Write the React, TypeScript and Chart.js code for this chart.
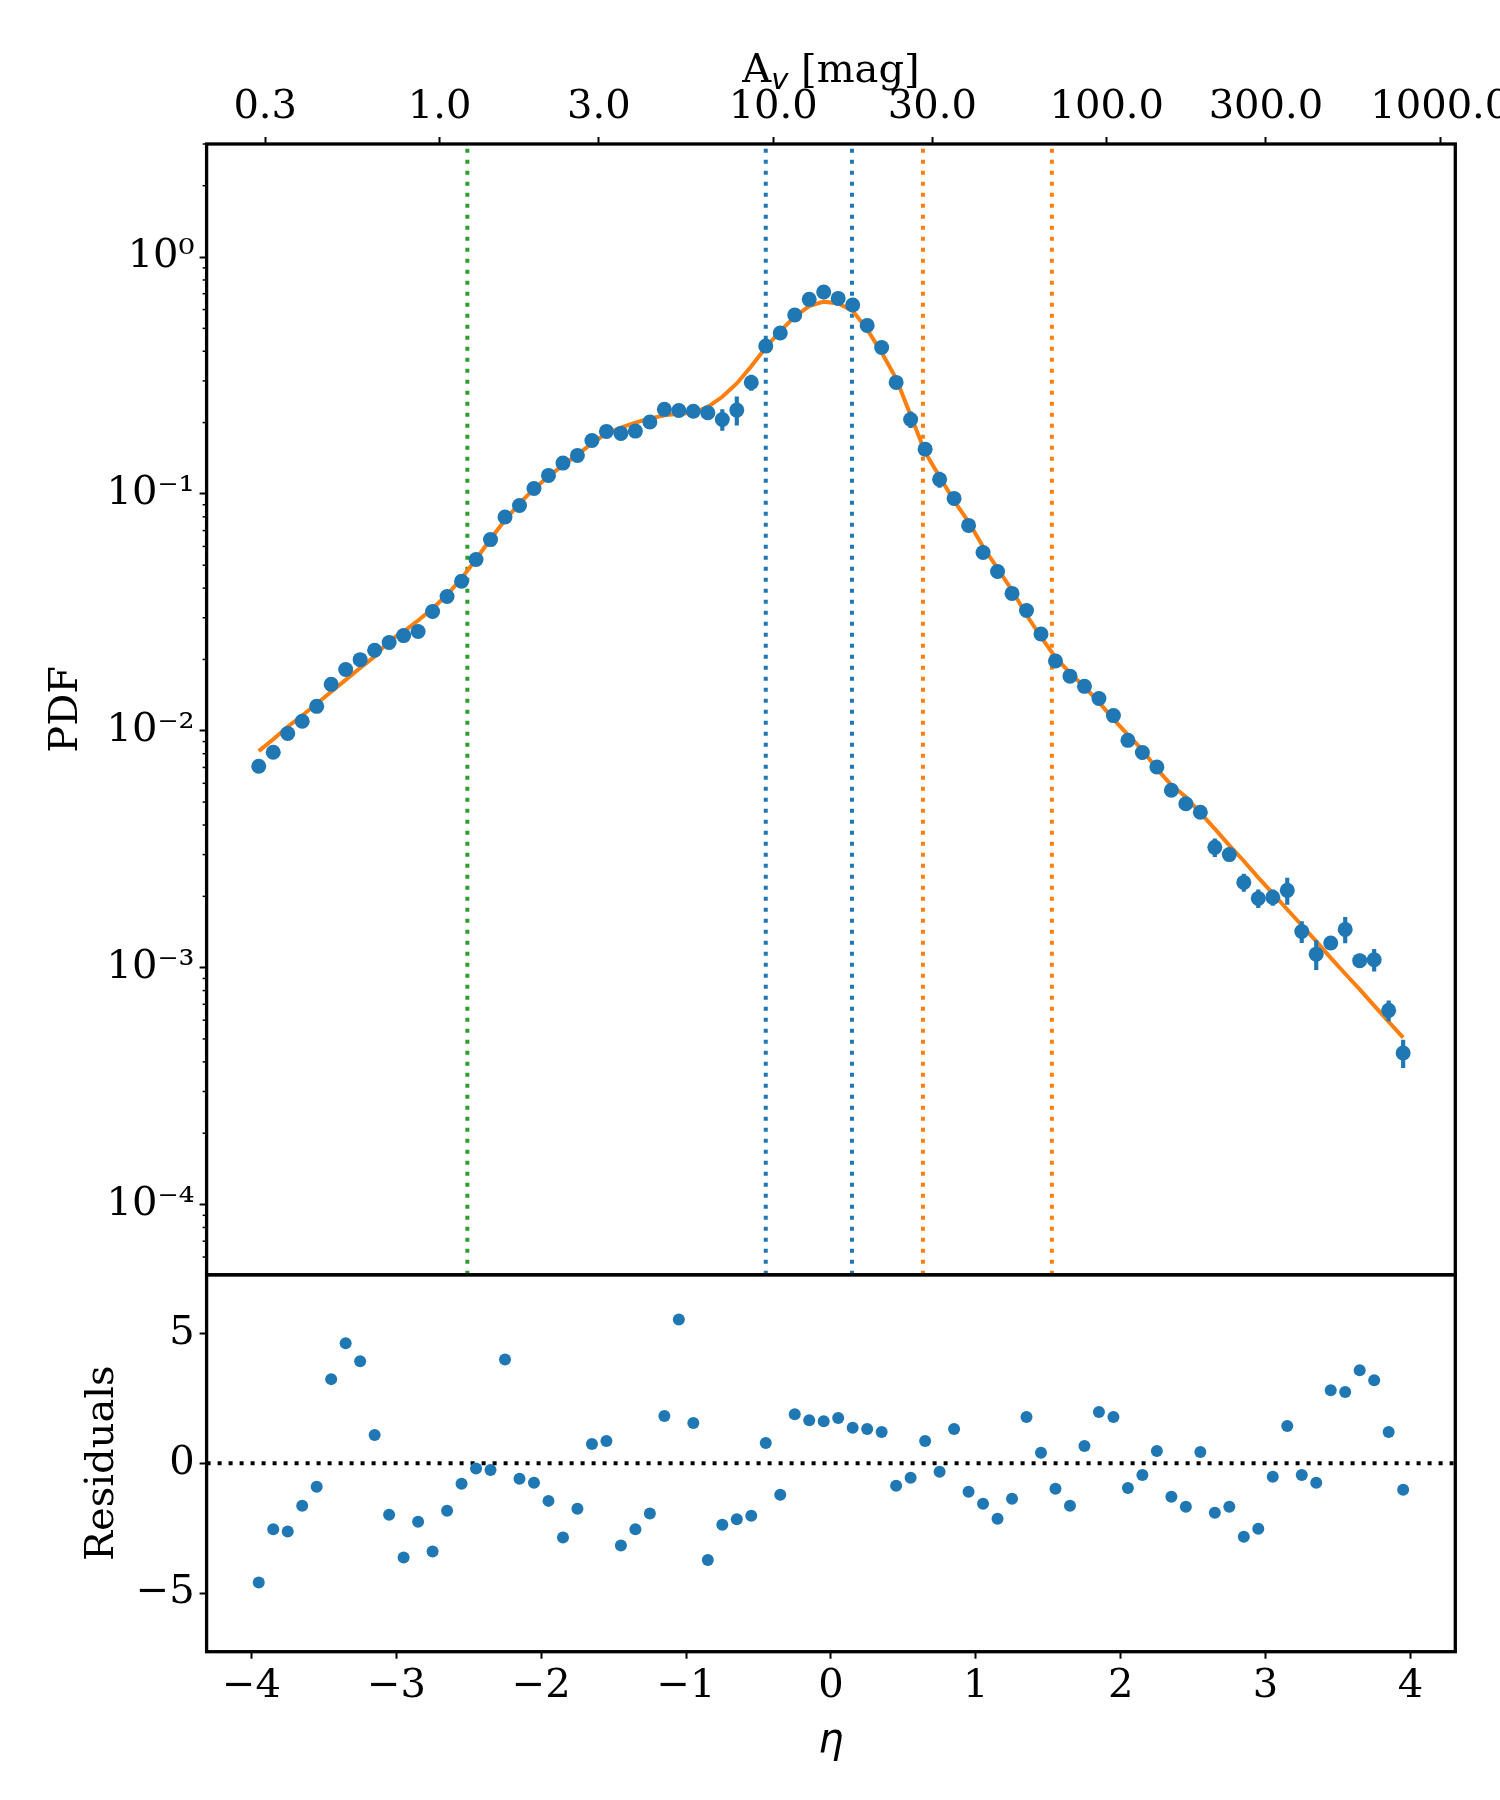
import React, { useEffect, useRef } from "react";
import { Chart, registerables } from "chart.js";

Chart.register(...registerables);

// eta = ln(A_v / A_v0), one bin every 0.1
const ETA = [
  -3.95, -3.85, -3.75, -3.65, -3.55, -3.45, -3.35, -3.25, -3.15, -3.05,
  -2.95, -2.85, -2.75, -2.65, -2.55, -2.45, -2.35, -2.25, -2.15, -2.05,
  -1.95, -1.85, -1.75, -1.65, -1.55, -1.45, -1.35, -1.25, -1.15, -1.05,
  -0.95, -0.85, -0.75, -0.65, -0.55, -0.45, -0.35, -0.25, -0.15, -0.05,
  0.05, 0.15, 0.25, 0.35, 0.45, 0.55, 0.65, 0.75, 0.85, 0.95,
  1.05, 1.15, 1.25, 1.35, 1.45, 1.55, 1.65, 1.75, 1.85, 1.95,
  2.05, 2.15, 2.25, 2.35, 2.45, 2.55, 2.65, 2.75, 2.85, 2.95,
  3.05, 3.15, 3.25, 3.35, 3.45, 3.55, 3.65, 3.75, 3.85, 3.95,
];

const PDF = [
  0.00708, 0.00811, 0.00973, 0.01097, 0.01268, 0.0157, 0.01813, 0.01996, 0.02186, 0.02357,
  0.02522, 0.02624, 0.03186, 0.03686, 0.04277, 0.05284, 0.06412, 0.07992, 0.0893, 0.1054,
  0.1197, 0.1349, 0.1454, 0.1681, 0.1836, 0.18, 0.1841, 0.201, 0.2274, 0.225,
  0.2232, 0.2201, 0.2062, 0.2258, 0.2955, 0.4207, 0.4775, 0.5689, 0.6626, 0.7113,
  0.6689, 0.627, 0.5145, 0.4152, 0.2955, 0.2062, 0.1545, 0.1151, 0.0957, 0.0736,
  0.0566, 0.047, 0.038, 0.0322, 0.0256, 0.0197, 0.017, 0.0154, 0.01368, 0.01159,
  0.00911, 0.00809, 0.00703, 0.00561, 0.00492, 0.00453, 0.00322, 0.003, 0.00229, 0.00196,
  0.00198, 0.00212, 0.00142, 0.00114, 0.00127, 0.00145, 0.00107, 0.00108, 0.00066, 0.000436,
];

const PDF_ERR = [
  0.00026, 0.0003, 0.00032, 0.00036, 0.0004, 0.00045, 0.00048, 0.0005, 0.00055, 0.0006,
  0.00065, 0.0011, 0.001, 0.0011, 0.0013, 0.0015, 0.0017, 0.002, 0.0023, 0.0026,
  0.003, 0.0032, 0.0034, 0.0038, 0.0042, 0.0033, 0.0063, 0.0036, 0.0068, 0.002,
  0.0021, 0.0035, 0.021, 0.031, 0.022, 0.007, 0.008, 0.0048, 0.025, 0.039,
  0.018, 0.024, 0.015, 0.017, 0.013, 0.016, 0.006, 0.0085, 0.0017, 0.0024,
  0.0021, 0.0007, 0.0009, 0.0008, 0.0009, 0.0007, 0.00034, 0.00012, 0.00024, 0.0002,
  0.0005, 0.0005, 0.0003, 0.0002, 0.0002, 0.0002, 0.00028, 0.00017, 0.00019, 0.00017,
  0.00015, 0.00027, 0.000145, 0.00016, 0.00006, 0.00018, 0.00007, 0.000115, 0.000065, 0.000058,
];

const FIT = [
  0.0082, 0.0092, 0.0104, 0.0116, 0.013, 0.0146, 0.0164, 0.0184, 0.0206, 0.024,
  0.0262, 0.0292, 0.0328, 0.0375, 0.044, 0.053, 0.0645, 0.0775, 0.0912, 0.105,
  0.1185, 0.132, 0.1465, 0.1635, 0.18, 0.1905, 0.2, 0.208, 0.2145, 0.218,
  0.22, 0.233, 0.257, 0.2925, 0.346, 0.415, 0.487, 0.56, 0.621, 0.648,
  0.637, 0.593, 0.495, 0.395, 0.307, 0.215, 0.15, 0.118, 0.0935, 0.0762,
  0.0598, 0.0485, 0.0392, 0.0308, 0.0249, 0.0204, 0.01755, 0.01532, 0.0132, 0.0112,
  0.0096, 0.0083, 0.0069, 0.0059, 0.00525, 0.0045, 0.00385, 0.00328, 0.00282, 0.0024,
  0.00206, 0.00176, 0.00151, 0.00129, 0.0011, 0.000942, 0.000809, 0.000691, 0.000591, 0.000506,
];

const RESID = [
  -4.59, -2.54, -2.63, -1.64, -0.91, 3.24, 4.62, 3.93, 1.09, -1.98,
  -3.63, -2.25, -3.4, -1.83, -0.79, -0.2, -0.26, 4.0, -0.6, -0.75,
  -1.45, -2.86, -1.75, 0.74, 0.86, -3.17, -2.54, -1.94, 1.82, 5.54,
  1.55, -3.73, -2.37, -2.16, -2.02, 0.78, -1.21, 1.89, 1.66, 1.62,
  1.74, 1.37, 1.32, 1.2, -0.87, -0.56, 0.86, -0.33, 1.32, -1.1,
  -1.56, -2.14, -1.37, 1.78, 0.4, -0.98, -1.64, 0.66, 1.97, 1.78,
  -0.95, -0.45, 0.47, -1.29, -1.68, 0.43, -1.91, -1.68, -2.83, -2.52,
  -0.52, 1.43, -0.45, -0.75, 2.81, 2.74, 3.58, 3.2, 1.2, -1.02,
];

const ETA_TICKS = [-4, -3, -2, -1, 0, 1, 2, 3, 4];
const AV_TICKS = [0.3, 1, 3, 10, 30, 100, 300, 1000];
const PDF_TICKS = [1e-4, 1e-3, 1e-2, 1e-1, 1];
const RESID_TICKS = [-5, 0, 5];

// vertical markers, in eta
const GREEN_LINES = [-2.51];
const BLUE_LINES = [-0.45, 0.145];
const ORANGE_LINES = [0.635, 1.525];

const AV0 = 14.9; // A_v at eta = 0
const X_MIN = -4.31;
const X_MAX = 4.31;
const PDF_MIN = 5.05e-5;
const PDF_MAX = 3.0;
const RES_LIM = 7.26;

const BLUE = "#1f77b4";
const ORANGE = "#ff7f0e";
const GREEN = "#2ca02c";
const SERIF = "'DejaVu Serif', serif";
const TICK_FONT = { family: SERIF, size: 40 };

const SUP: Record<string, string> = {
  "-": "\u207b", "0": "\u2070", "1": "\u00b9", "2": "\u00b2", "3": "\u00b3",
  "4": "\u2074", "5": "\u2075", "6": "\u2076", "7": "\u2077", "8": "\u2078", "9": "\u2079",
};

const signed = (v: number) => (v < 0 ? "\u2212" + Math.abs(v) : String(v));
const powerLabel = (v: number) => {
  const e = String(Math.round(Math.log10(v)));
  return "10" + e.split("").map((c) => SUP[c]).join("");
};

const tickGrid = { drawOnChartArea: false, drawTicks: true, tickLength: 7, tickWidth: 2, tickColor: "#000", offset: false };

// boxes round both panels, minor ticks of the log axis, and the A_v title with its subscript
const framePlugin = {
  id: "panelFrames",
  afterDatasetsDraw(chart: any) {
    const { ctx, chartArea } = chart;
    const yPdf = chart.scales.yPdf;
    const yRes = chart.scales.yRes;
    const w = chartArea.right - chartArea.left;
    ctx.save();
    ctx.strokeStyle = "#000";
    ctx.lineWidth = 1.5;
    for (let k = -5; k <= 0; k++) {
      for (let m = 2; m <= 9; m++) {
        const v = m * Math.pow(10, k);
        if (v < yPdf.min || v > yPdf.max) continue;
        const y = yPdf.getPixelForValue(v);
        ctx.beginPath();
        ctx.moveTo(chartArea.left, y);
        ctx.lineTo(chartArea.left - 4, y);
        ctx.stroke();
      }
    }
    ctx.lineWidth = 3.3;
    ctx.strokeRect(chartArea.left, yPdf.top, w, yPdf.bottom - yPdf.top);
    ctx.strokeRect(chartArea.left, yRes.top, w, yRes.bottom - yRes.top);
    ctx.restore();
  },
  afterDraw(chart: any) {
    const { ctx, chartArea } = chart;
    const mainFont = `40px ${SERIF}`;
    const subFont = "italic 29px 'DejaVu Sans'";
    const base = 82;
    ctx.save();
    ctx.fillStyle = "#000";
    ctx.textBaseline = "alphabetic";
    ctx.textAlign = "left";
    ctx.font = mainFont;
    const wA = ctx.measureText("A").width;
    const wRest = ctx.measureText(" [mag]").width;
    ctx.font = subFont;
    const wv = ctx.measureText("v").width;
    let x = (chartArea.left + chartArea.right) / 2 - (wA + wv + wRest) / 2;
    ctx.font = mainFont;
    ctx.fillText("A", x, base);
    x += wA;
    ctx.font = subFont;
    ctx.fillText("v", x, base + 6.5);
    x += wv;
    ctx.font = mainFont;
    ctx.fillText(" [mag]", x, base);
    ctx.restore();
  },
};

const vline = (x: number, color: string) => ({
  type: "line" as const,
  data: [
    { x, y: PDF_MIN },
    { x, y: PDF_MAX },
  ],
  xAxisID: "x",
  yAxisID: "yPdf",
  borderColor: color,
  borderWidth: 4,
  borderDash: [4, 7],
  pointRadius: 0,
  order: 3,
});

export default function App() {
  const canvasRef = useRef<HTMLCanvasElement>(null);

  useEffect(() => {
    const canvas = canvasRef.current;
    if (!canvas) return;

    const chart = new Chart(canvas, {
      type: "scatter",
      data: {
        datasets: [
          {
            type: "scatter",
            data: ETA.map((x, i) => ({ x, y: PDF[i] })),
            xAxisID: "x",
            yAxisID: "yPdf",
            pointRadius: 7.5,
            pointBackgroundColor: BLUE,
            pointBorderWidth: 0,
            order: 0,
          },
          {
            type: "bar",
            data: ETA.map((x, i) => ({ x, y: [PDF[i] - PDF_ERR[i], PDF[i] + PDF_ERR[i]] })),
            xAxisID: "x",
            yAxisID: "yPdf",
            backgroundColor: BLUE,
            borderWidth: 0,
            barThickness: 3.5,
            grouped: false,
            order: 1,
          } as any,
          {
            type: "line",
            data: ETA.map((x, i) => ({ x, y: FIT[i] })),
            xAxisID: "x",
            yAxisID: "yPdf",
            borderColor: ORANGE,
            borderWidth: 4,
            pointRadius: 0,
            order: 2,
          },
          ...GREEN_LINES.map((x) => vline(x, GREEN)),
          ...BLUE_LINES.map((x) => vline(x, BLUE)),
          ...ORANGE_LINES.map((x) => vline(x, ORANGE)),
          {
            type: "scatter",
            data: ETA.map((x, i) => ({ x, y: RESID[i] })),
            xAxisID: "x",
            yAxisID: "yRes",
            pointRadius: 6,
            pointBackgroundColor: BLUE,
            pointBorderWidth: 0,
            order: 0,
          },
          {
            type: "line",
            data: [
              { x: X_MIN, y: 0 },
              { x: X_MAX, y: 0 },
            ],
            xAxisID: "x",
            yAxisID: "yRes",
            borderColor: "#000",
            borderWidth: 4,
            borderDash: [4, 7],
            pointRadius: 0,
            order: 3,
          },
        ],
      },
      options: {
        animation: false,
        responsive: false,
        devicePixelRatio: 1,
        events: [],
        layout: { padding: { left: 0, top: 0, right: 84.7, bottom: 0 } },
        plugins: {
          legend: { display: false },
          tooltip: { enabled: false },
        },
        scales: {
          x: {
            type: "linear",
            position: "bottom",
            min: X_MIN,
            max: X_MAX,
            offset: false,
            afterBuildTicks: (s: any) => {
              s.ticks = ETA_TICKS.map((value) => ({ value }));
            },
            afterFit: (s: any) => {
              s.height = 148.3;
            },
            border: { display: false },
            grid: tickGrid,
            ticks: {
              color: "#000",
              font: TICK_FONT,
              padding: 4,
              autoSkip: false,
              maxRotation: 0,
              callback: (v: any) => signed(Number(v)),
            },
            title: {
              display: true,
              text: "\u03b7",
              color: "#000",
              font: { family: "'DejaVu Sans'", size: 40, style: "italic" },
              padding: { top: 0, bottom: 34 },
            },
          },
          xAv: {
            type: "logarithmic",
            position: "top",
            min: AV0 * Math.exp(X_MIN),
            max: AV0 * Math.exp(X_MAX),
            offset: false,
            afterBuildTicks: (s: any) => {
              s.ticks = AV_TICKS.map((value) => ({ value }));
            },
            afterFit: (s: any) => {
              s.height = 144;
            },
            border: { display: false },
            grid: tickGrid,
            ticks: {
              color: "#000",
              font: TICK_FONT,
              padding: 5,
              autoSkip: false,
              maxRotation: 0,
              callback: (v: any) => Number(v).toFixed(1),
            },
            title: { display: false },
          },
          yRes: {
            type: "linear",
            position: "left",
            stack: "panels",
            stackWeight: 1,
            min: -RES_LIM,
            max: RES_LIM,
            offset: false,
            afterBuildTicks: (s: any) => {
              s.ticks = RESID_TICKS.map((value) => ({ value }));
            },
            afterFit: (s: any) => {
              s.width = 206.6;
            },
            border: { display: false },
            grid: tickGrid,
            ticks: {
              color: "#000",
              font: TICK_FONT,
              padding: 5,
              callback: (v: any) => signed(Number(v)),
            },
            title: {
              display: true,
              text: "Residuals",
              color: "#000",
              font: { family: SERIF, size: 40 },
              padding: { top: 79, bottom: 0 },
            },
          },
          yPdf: {
            type: "logarithmic",
            position: "left",
            stack: "panels",
            stackWeight: 3,
            min: PDF_MIN,
            max: PDF_MAX,
            offset: false,
            afterBuildTicks: (s: any) => {
              s.ticks = PDF_TICKS.map((value) => ({ value }));
            },
            afterFit: (s: any) => {
              s.width = 206.6;
            },
            border: { display: false },
            grid: tickGrid,
            ticks: {
              color: "#000",
              font: TICK_FONT,
              padding: 5,
              callback: (v: any) => powerLabel(Number(v)),
            },
            title: {
              display: true,
              text: "PDF",
              color: "#000",
              font: { family: SERIF, size: 40 },
              padding: { top: 43, bottom: 0 },
            },
          },
        } as any,
      },
      plugins: [framePlugin],
    });

    return () => chart.destroy();
  }, []);

  return (
    <div
      style={{
        position: "absolute",
        left: 0,
        top: 0,
        width: 1500,
        height: 1800,
        overflow: "hidden",
        background: "#fff",
      }}
    >
      <canvas ref={canvasRef} width={1540} height={1800} style={{ display: "block", width: 1540, height: 1800 }} />
    </div>
  );
}
